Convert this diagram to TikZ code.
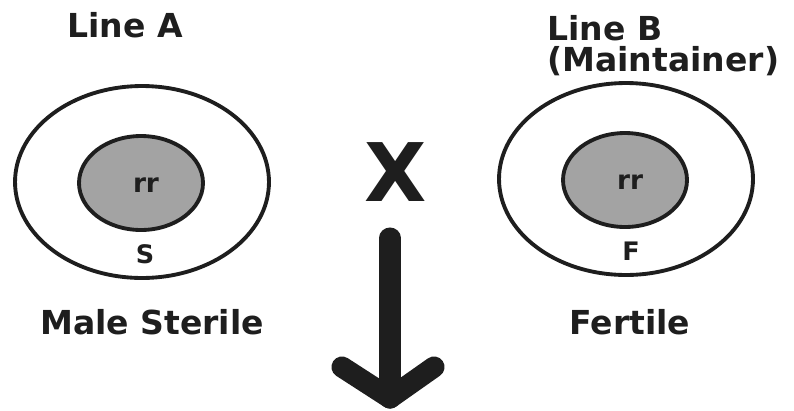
\documentclass[tikz,border=0pt]{standalone}
\usepackage{fontspec}
\setmainfont{DejaVu Sans}
\usepackage{tikz}
\usetikzlibrary{
  arrows.meta,
  positioning,
  shapes.geometric,
  calc,
}
\definecolor{cellgray}{HTML}{A3A3A3}
\definecolor{inkdark}{HTML}{1E1E1E}

\begin{document}
\begin{tikzpicture}[
    x=0.02cm, y=-0.02cm,
    outer/.style={ellipse, draw=inkdark, line width=2.2pt, minimum width=5.08cm, minimum height=3.84cm},
    inner/.style={ellipse, draw=inkdark, fill=cellgray, line width=2.2pt, minimum width=2.48cm, minimum height=1.88cm},
    title/.style={font=\fontsize{18.8}{17.8}\selectfont\bfseries, text=inkdark, inner sep=0pt},
    gene/.style={font=\fontsize{15}{16}\selectfont\bfseries, text=inkdark, inner sep=0pt},
    cyto/.style={font=\fontsize{14.5}{15}\selectfont\bfseries, text=inkdark, inner sep=0pt},
    fat/.style={draw=inkdark, line width=12pt, line cap=round, line join=round},
  ]
  \useasboundingbox (0,0) rectangle (794,410);

  % line A
  \node[title] (lineA) at (125,25) {Line A};
  \node[outer] (cellA) at (142,182) {};
  \node[inner] (nucA) at (141,183) {};
  \node[gene] (rrA) at (146,185) {rr};
  \node[cyto] (sA) at (145,254) {S};
  \node[title] (typeA) at (152,322) {Male Sterile};

  % line B
  \node[title, align=left, anchor=north west] (lineB) at (547,15) {Line B\\(Maintainer)};
  \node[outer] (cellB) at (626,179) {};
  \node[inner] (nucB) at (625,180) {};
  \node[gene] (rrB) at (630,182) {rr};
  \node[cyto] (fB) at (631,251) {F};
  \node[title] (typeB) at (630,322) {Fertile};

  % cross
  \node[font=\fontsize{46}{48}\selectfont\bfseries, text=inkdark, inner sep=0pt] (cross) at (396,172) {X};
  \coordinate (top) at (390,238);
  \coordinate (tip) at (390,398);
  \draw[fat] (top) -- (tip);
  \draw[fat] ($(tip)+(-48,-31)$) -- (tip) -- ($(tip)+(44,-31)$);
\end{tikzpicture}
\end{document}
